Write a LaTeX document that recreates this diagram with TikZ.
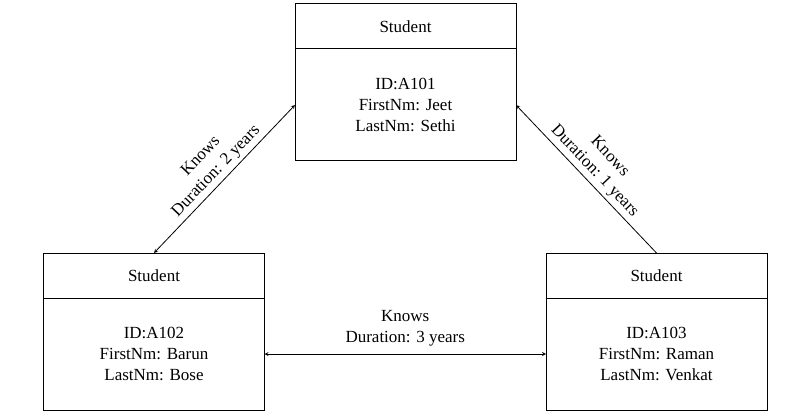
\documentclass[tikz,border=0pt]{standalone}
\usepackage{fontspec}
\setmainfont{Liberation Serif}
\usetikzlibrary{positioning}

\begin{document}
\begin{tikzpicture}[x=1pt, y=-1pt, >=stealth, every node/.style={align=center, font=\fontsize{17}{21}\selectfont},
    head/.style={draw, line width=1pt, minimum width=221pt, minimum height=45pt, outer sep=0pt},
    attrs/.style={draw, line width=1pt, minimum width=221pt, minimum height=112pt, outer sep=0pt},
    link/.style={line width=0.8pt}]
    \useasboundingbox (0,0) rectangle (801,417);

    % Top student
    \node (jeet) [head] at (405.5,26.5) {Student};
    \node (jeetA) [attrs, below=0pt of jeet] {ID:A101\\FirstNm: Jeet\\LastNm: Sethi};

    % Left student
    \node (barun) [head] at (154,275.5) {Student};
    \node (barunA) [attrs, below=0pt of barun] {ID:A102\\FirstNm: Barun\\LastNm: Bose};

    % Right student
    \node (raman) [head] at (656.5,275.5) {Student};
    \node (ramanA) [attrs, below=0pt of raman] {ID:A103\\FirstNm: Raman\\LastNm: Venkat};

    % Knows links
    \draw[<->, link] (jeetA.west) -- node[above, sloped] {Knows\\Duration: 2 years} (barun.north);
    \draw[->, link] (raman.north) -- node[above, sloped] {Knows\\Duration: 1 years} (jeetA.east);
    \draw[<->, link] (barunA.east) -- node[above, yshift=4pt] {Knows\\Duration: 3 years} (ramanA.west);
\end{tikzpicture}
\end{document}
